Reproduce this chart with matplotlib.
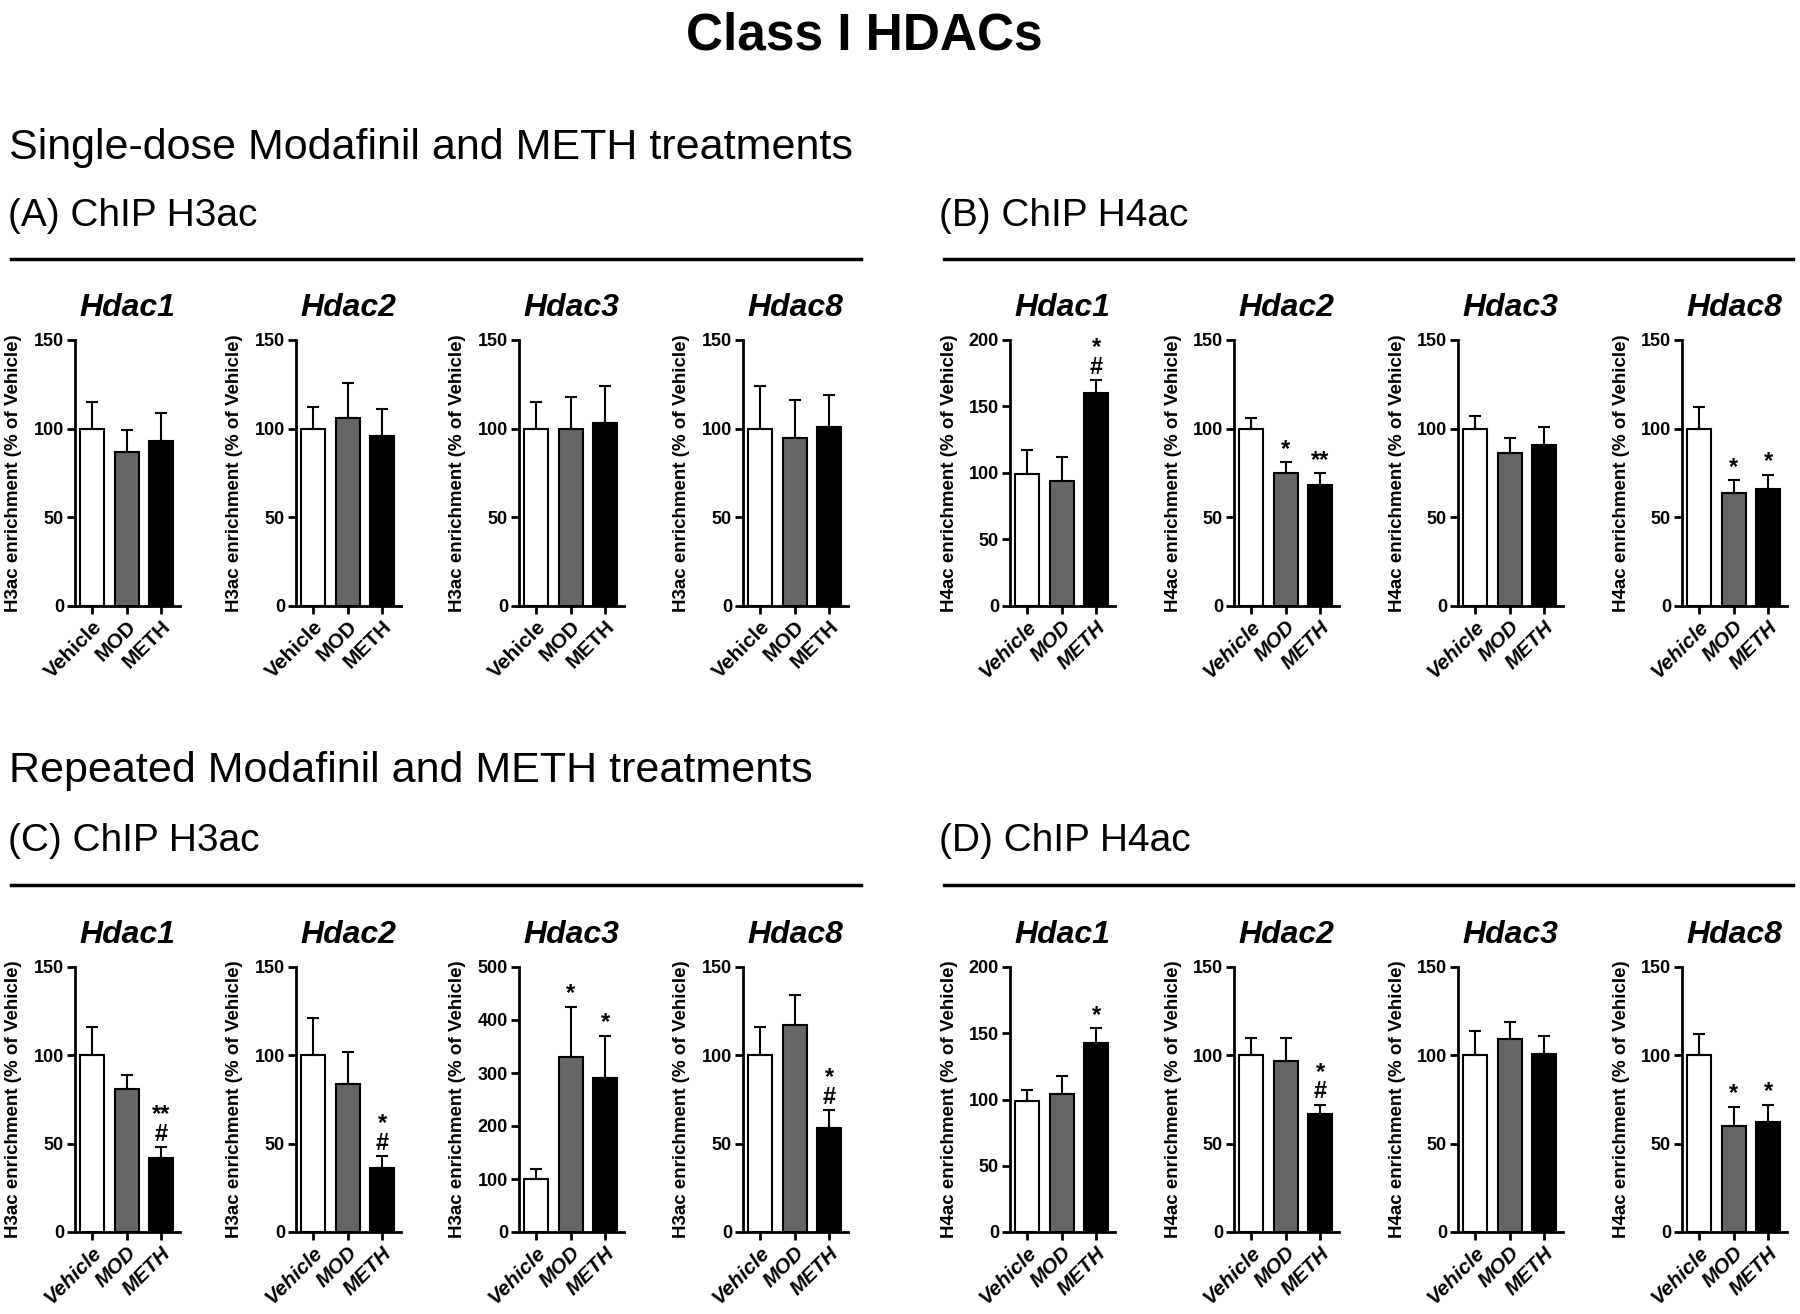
import matplotlib.pyplot as plt

plt.rcParams['font.family'] = ['Liberation Sans', 'DejaVu Sans']

groups = ['Vehicle', 'MOD', 'METH']
genes = ['Hdac1', 'Hdac2', 'Hdac3', 'Hdac8']
bar_colors = ['white', '#666666', 'black']

# (A) single-dose, ChIP H3ac
a_mean = [[100, 87, 93], [100, 106, 96], [100, 100, 103], [100, 95, 101]]
a_err = [[15, 12, 16], [12, 20, 15], [15, 18, 21], [24, 21, 18]]
a_ymax = [150, 150, 150, 150]
a_marks = [['', '', ''], ['', '', ''], ['', '', ''], ['', '', '']]

# (B) single-dose, ChIP H4ac
b_mean = [[99, 94, 160], [100, 75, 68], [100, 86, 91], [100, 64, 66]]
b_err = [[18, 18, 10], [6, 6, 7], [7, 9, 10], [12, 7, 8]]
b_ymax = [200, 150, 150, 150]
b_marks = [['', '', '*\n#'], ['', '*', '**'], ['', '', ''], ['', '*', '*']]

# (C) repeated, ChIP H3ac
c_mean = [[100, 81, 42], [100, 84, 36], [100, 330, 290], [100, 117, 59]]
c_err = [[16, 8, 6], [21, 18, 7], [18, 95, 80], [16, 17, 10]]
c_ymax = [150, 150, 500, 150]
c_marks = [['', '', '**\n#'], ['', '', '*\n#'], ['', '*', '*'], ['', '', '*\n#']]

# (D) repeated, ChIP H4ac
d_mean = [[99, 104, 143], [100, 97, 67], [100, 109, 101], [100, 60, 62]]
d_err = [[8, 14, 11], [10, 13, 5], [14, 10, 10], [12, 11, 10]]
d_ymax = [200, 150, 150, 150]
d_marks = [['', '', '*'], ['', '', '*\n#'], ['', '', ''], ['', '*', '*']]

W, H = 1800, 1314
fig = plt.figure(figsize=(W / 100, H / 100), dpi=100)


def fx(px):
    return px / W


def fy(py):
    return 1 - py / H


fig.text(fx(864), fy(36), 'Class I HDACs', ha='center', va='center',
         fontsize=37, fontweight='bold')
fig.text(fx(9), fy(148), 'Single-dose Modafinil and METH treatments',
         ha='left', va='center', fontsize=31)
fig.text(fx(9), fy(771), 'Repeated Modafinil and METH treatments',
         ha='left', va='center', fontsize=31)
fig.text(fx(8), fy(216), '(A) ChIP H3ac', ha='left', va='center', fontsize=28)
fig.text(fx(939), fy(216), '(B) ChIP H4ac', ha='left', va='center', fontsize=28)
fig.text(fx(8), fy(841), '(C) ChIP H3ac', ha='left', va='center', fontsize=28)
fig.text(fx(939), fy(841), '(D) ChIP H4ac', ha='left', va='center', fontsize=28)

for yl in [259, 885]:
    fig.add_artist(plt.Line2D([fx(11), fx(861)], [fy(yl), fy(yl)], color='black', lw=2.5))
    fig.add_artist(plt.Line2D([fx(944), fx(1793)], [fy(yl), fy(yl)], color='black', lw=2.5))

left_cols = [[75, 296, 519, 743], [1010, 1234, 1458, 1682]]
rows = [(340, 606), (967, 1232)]
ax_w = 105

panels = [
    (0, 0, a_mean, a_err, a_ymax, a_marks, 'H3ac', 'normal'),
    (0, 1, b_mean, b_err, b_ymax, b_marks, 'H4ac', 'italic'),
    (1, 0, c_mean, c_err, c_ymax, c_marks, 'H3ac', 'italic'),
    (1, 1, d_mean, d_err, d_ymax, d_marks, 'H4ac', 'italic'),
]

for r, side, means, errs, ymaxs, marks, mark_name, xstyle in panels:
    top, bot = rows[r]
    for i, gene in enumerate(genes):
        left = left_cols[side][i]
        ax = fig.add_axes([fx(left), fy(bot), ax_w / W, (bot - top) / H])
        x = [0, 1, 2]
        ax.bar(x, means[i], width=0.7, color=bar_colors, edgecolor='black', linewidth=1.5)
        ax.errorbar(x, means[i], yerr=[[0, 0, 0], errs[i]], fmt='none', ecolor='black',
                    elinewidth=1.5, capsize=4, capthick=1.5)
        for j in range(3):
            if marks[i][j]:
                ax.annotate(marks[i][j], (x[j], means[i][j] + errs[i][j]),
                            xytext=(0, 1), textcoords='offset points', ha='center',
                            va='bottom', fontsize=17, fontweight='bold', linespacing=0.8)
        ymax = ymaxs[i]
        ax.set_ylim(0, ymax)
        ax.set_yticks(range(0, ymax + 1, 50 if ymax <= 200 else 100))
        ax.set_xlim(-0.5, 2.55)
        ax.set_xticks(x)
        ax.set_xticklabels(groups, rotation=45, ha='right', va='top',
                           rotation_mode='anchor', fontsize=15,
                           fontweight='bold', fontstyle=xstyle)
        for lab in ax.get_yticklabels():
            lab.set_fontweight('bold')
            lab.set_fontsize(13)
        ax.spines['top'].set_visible(False)
        ax.spines['right'].set_visible(False)
        ax.spines['left'].set_linewidth(2)
        ax.spines['bottom'].set_linewidth(2)
        ax.tick_params(width=2, length=6, pad=2)
        ax.set_ylabel(mark_name + ' enrichment (% of Vehicle)', fontsize=13.5,
                      fontweight='bold')
        ax.yaxis.set_label_coords(-0.5, 0.5)
        ax.text(0.5, 1 + 32 / (bot - top), gene, transform=ax.transAxes,
                ha='center', va='center', fontsize=23, fontweight='bold',
                fontstyle='italic')

plt.savefig('out.png', dpi=100)
